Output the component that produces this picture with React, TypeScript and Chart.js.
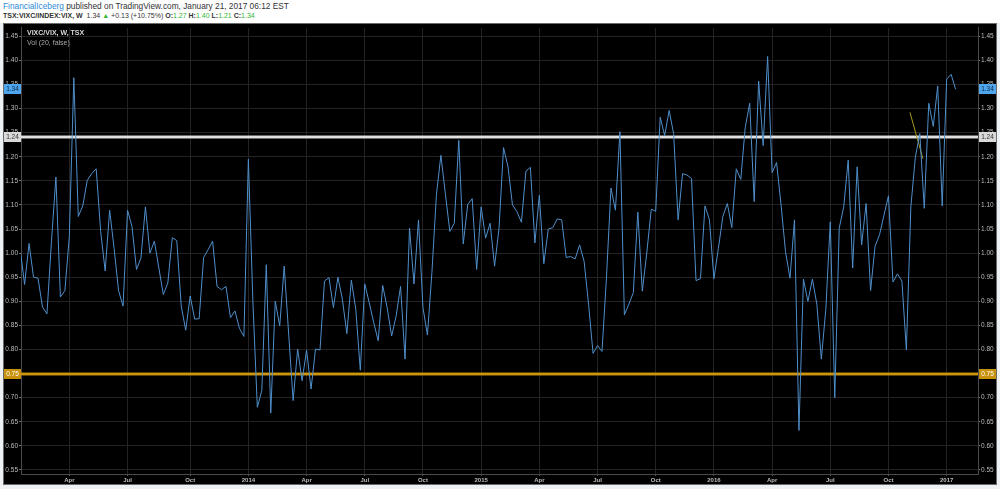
import React, { useEffect, useRef } from 'react';
import { Chart, registerables } from 'chart.js';

Chart.register(...registerables);

// Weekly bars, first bar = week of 14 Jan 2013
const START_DATE = Date.UTC(2013, 0, 14);

const values2013 = [
  1.01, 0.935, 1.02, 0.95, 0.948, 0.888, 0.874, 1.024, 1.158, 0.909,
  0.922, 1.035, 1.364, 1.076, 1.098, 1.151, 1.165, 1.175, 1.045, 0.963,
  1.089, 1.01, 0.922, 0.89, 1.089, 1.055, 0.966, 0.99, 1.096, 1.0,
  1.025, 0.969, 0.914, 0.938, 1.032, 1.026, 0.89, 0.84, 0.911, 0.863,
  0.864, 0.991, 1.007, 1.025, 0.931, 0.924, 0.931, 0.866, 0.88, 0.844,
  0.827,
];
const values2014 = [
  1.195, 0.9, 0.68, 0.715, 0.976, 0.668, 0.9, 0.849, 0.973, 0.832,
  0.694, 0.801, 0.735, 0.799, 0.718, 0.801, 0.799, 0.942, 0.949, 0.887,
  0.95, 0.904, 0.833, 0.944, 0.883, 0.757, 0.936, 0.897, 0.856, 0.818,
  0.933, 0.887, 0.828, 0.869, 0.931, 0.78, 1.052, 0.936, 1.069, 0.887,
  0.83, 0.96, 1.12, 1.203, 1.124, 1.045, 1.062, 1.234, 1.019, 1.101,
  1.113, 0.966,
];
const values2015 = [
  1.096, 1.031, 1.062, 0.973, 1.052, 1.219, 1.179, 1.1, 1.086, 1.064,
  1.17, 1.178, 1.021, 1.12, 0.978, 1.05, 1.053, 1.071, 1.069, 0.991,
  0.993, 0.988, 1.017, 0.983, 0.894, 0.792, 0.808, 0.796, 0.95, 1.135,
  1.089, 1.252, 0.872, 0.894, 0.918, 1.085, 0.921, 1.0, 1.091, 1.087,
  1.282, 1.244, 1.296, 1.248, 1.069, 1.165, 1.162, 1.155, 0.943, 0.947,
  1.098, 1.069,
];
const values2016 = [
  0.947, 1.01, 1.076, 1.103, 1.053, 1.175, 1.153, 1.261, 1.311, 1.107,
  1.357, 1.223, 1.408, 1.167, 1.188, 1.1, 1.003, 0.948, 1.069, 0.632,
  0.946, 0.9, 0.946, 0.894, 0.78, 0.883, 1.065, 0.7, 1.052, 1.096,
  1.193, 0.969, 1.179, 1.017, 1.103, 0.922, 1.014, 1.038, 1.079, 1.119,
  0.94, 0.957, 0.942, 0.799, 1.096, 1.199, 1.248, 1.093, 1.311, 1.263,
  1.347, 1.098,
];
const values2017 = [1.361, 1.371, 1.34];

const vixcVix = [...values2013, ...values2014, ...values2015, ...values2016, ...values2017];

// small trend-line drawing (week index, value)
const trendWeeks = [198.8, 201.7];
const trendValues = [1.292, 1.196];

const yTickValues = [0.55, 0.6, 0.65, 0.7, 0.75, 0.8, 0.85, 0.9, 0.95, 1.0, 1.05, 1.1, 1.15, 1.2, 1.25, 1.3, 1.35, 1.4, 1.45];
const quarterNames: Record<number, string> = { 3: 'Apr', 6: 'Jul', 9: 'Oct' };

const lastClose = 1.34;
const resistanceLevel = 1.24;
const supportLevel = 0.75;

const Y_MIN = 0.5416;
const Y_MAX = 1.4674;
const X_MIN = 0.2;
const X_MAX = 214;

function weekDate(i: number) {
  return new Date(START_DATE + i * 7 * 86400000);
}

function buildXTicks() {
  const ticks: { value: number; label: string }[] = [];
  for (let i = 1; i < 215; i++) {
    const d = weekDate(i);
    const p = weekDate(i - 1);
    if (d.getUTCMonth() !== p.getUTCMonth()) {
      const m = d.getUTCMonth();
      if (m === 0) ticks.push({ value: i, label: String(d.getUTCFullYear()) });
      else if (quarterNames[m]) ticks.push({ value: i, label: quarterNames[m] });
    }
  }
  return ticks;
}

const FONT = "'Liberation Sans', Arial, sans-serif";

export default function App() {
  const canvasRef = useRef<HTMLCanvasElement | null>(null);

  useEffect(() => {
    const canvas = canvasRef.current;
    if (!canvas) return;
    const xTicks = buildXTicks();
    const xLabelMap = new Map(xTicks.map((t) => [t.value, t.label]));

    const overlay = {
      id: 'tvOverlay',
      beforeDraw(chart: any) {
        const ctx = chart.ctx;
        ctx.save();
        ctx.fillStyle = '#000';
        ctx.fillRect(0, 0, chart.width, chart.height);
        ctx.restore();
      },
      beforeDatasetsDraw(chart: any) {
        const ctx = chart.ctx;
        const ca = chart.chartArea;
        const ys = chart.scales.y;
        ctx.save();
        const yr = Math.round(ys.getPixelForValue(resistanceLevel));
        ctx.fillStyle = '#cfcfcf';
        ctx.fillRect(ca.left, yr - 1.5, ca.right - ca.left, 3);
        ctx.fillStyle = '#f2f2f2';
        ctx.fillRect(ca.left, yr - 0.5, ca.right - ca.left, 1);
        const ysu = Math.round(ys.getPixelForValue(supportLevel));
        ctx.fillStyle = '#b8860b';
        ctx.fillRect(ca.left, ysu - 1.5, ca.right - ca.left, 3);
        ctx.fillStyle = '#e0a510';
        ctx.fillRect(ca.left, ysu - 0.5, ca.right - ca.left, 1);
        ctx.restore();
      },
      afterDraw(chart: any) {
        const ctx = chart.ctx;
        const ca = chart.chartArea;
        const ys = chart.scales.y;
        ctx.save();
        // outer border
        ctx.strokeStyle = '#6a6a6a';
        ctx.lineWidth = 1;
        ctx.strokeRect(0.5, 0.5, chart.width - 1, chart.height - 1);
        // price boxes
        const boxes = [
          { v: lastClose, bg: '#4ea6ee', fg: '#0b2740' },
          { v: resistanceLevel, bg: '#d9d9d9', fg: '#333' },
          { v: supportLevel, bg: '#c8920c', fg: '#fff' },
        ];
        ctx.font = `6.5px ${FONT}`;
        ctx.textBaseline = 'middle';
        for (const b of boxes) {
          const y = Math.round(ys.getPixelForValue(b.v));
          ctx.fillStyle = b.bg;
          ctx.fillRect(1, y - 5, ca.left - 1, 10);
          ctx.fillRect(ca.right + 1, y - 5, chart.width - ca.right - 2, 10);
          ctx.fillStyle = b.fg;
          ctx.textAlign = 'center';
          ctx.fillText(b.v.toFixed(2), (1 + ca.left) / 2, y + 0.5);
          ctx.fillText(b.v.toFixed(2), (ca.right + chart.width) / 2, y + 0.5);
        }
        // legend
        ctx.textAlign = 'left';
        ctx.textBaseline = 'middle';
        ctx.fillStyle = '#d8d8d8';
        ctx.font = `bold 7px ${FONT}`;
        ctx.fillText('VIXC/VIX, W, TSX', ca.left + 6, 10);
        ctx.fillStyle = '#a8a8a8';
        ctx.font = `7px ${FONT}`;
        ctx.fillText('Vol (20, false)', ca.left + 6, 20);
        ctx.restore();
      },
    };

    const yTicksFn = (axis: any) => {
      axis.ticks = yTickValues.map((v) => ({ value: v }));
    };

    const chart = new Chart(canvas, {
      type: 'line',
      data: {
        datasets: [
          {
            label: 'VIXC/VIX',
            data: vixcVix.map((v, i) => ({ x: i, y: v })),
            borderColor: '#4f8fcb',
            borderWidth: 1,
            pointRadius: 0,
            tension: 0,
            fill: false,
          },
          {
            label: 'trend',
            data: trendWeeks.map((w, i) => ({ x: w, y: trendValues[i] })),
            borderColor: '#a59a1e',
            borderWidth: 1,
            pointRadius: 0,
            tension: 0,
            fill: false,
          },
        ],
      },
      plugins: [overlay],
      options: {
        animation: false,
        responsive: false,
        maintainAspectRatio: false,
        layout: { padding: { top: 2, left: 0, right: 0, bottom: 0 } },
        plugins: { legend: { display: false }, tooltip: { enabled: false } },
        scales: {
          x: {
            type: 'linear',
            min: X_MIN,
            max: X_MAX,
            afterBuildTicks: (axis: any) => {
              axis.ticks = xTicks.map((t) => ({ value: t.value }));
            },
            afterFit: (axis: any) => {
              axis.height = 11;
            },
            ticks: {
              autoSkip: false,
              maxRotation: 0,
              padding: 1,
              color: '#bdbdbd',
              font: { size: 6, weight: 'bold', family: FONT },
              callback: (v: any) => xLabelMap.get(v) ?? '',
            },
            grid: { color: '#232323', tickLength: 2, tickColor: '#555' },
            border: { color: '#4a4a4a' },
          },
          y: {
            type: 'linear',
            position: 'left',
            min: Y_MIN,
            max: Y_MAX,
            afterBuildTicks: yTicksFn,
            afterFit: (axis: any) => {
              axis.width = 18;
            },
            ticks: {
              autoSkip: false,
              padding: 1,
              color: '#bdbdbd',
              font: { size: 6.5, family: FONT },
              callback: (v: any) => Number(v).toFixed(2),
            },
            grid: { color: '#232323', tickLength: 2, tickColor: '#777' },
            border: { color: '#4a4a4a' },
          },
          y2: {
            type: 'linear',
            position: 'right',
            min: Y_MIN,
            max: Y_MAX,
            afterBuildTicks: yTicksFn,
            afterFit: (axis: any) => {
              axis.width = 19;
            },
            ticks: {
              autoSkip: false,
              padding: 1,
              color: '#bdbdbd',
              font: { size: 6.5, family: FONT },
              callback: (v: any) => Number(v).toFixed(2),
            },
            grid: { drawOnChartArea: false, tickLength: 2, tickColor: '#777' },
            border: { color: '#4a4a4a' },
          },
        },
      },
    } as any);

    return () => chart.destroy();
  }, []);

  const green = '#2fb62f';
  return (
    <div style={{ position: 'fixed', left: 0, top: 0, width: 1000, height: 489, background: '#eef1f4', overflow: 'hidden' }}>
      <div style={{ position: 'absolute', left: 0, top: 0, width: 1000, height: 23, background: '#fff', fontFamily: FONT, color: '#333' }}>
        <div style={{ position: 'absolute', left: 3, top: 1, whiteSpace: 'nowrap', fontSize: 8.3, lineHeight: '10px' }}>
          <span style={{ color: '#2e8ad8' }}>FinancialIceberg</span> published on TradingView.com, January 21, 2017 06:12 EST
        </div>
        <div style={{ position: 'absolute', left: 3, top: 11, whiteSpace: 'nowrap', fontSize: 7, lineHeight: '10px' }}>
          <b>TSX:VIXC/INDEX:VIX, W</b>&nbsp; 1.34 <span style={{ color: green }}>▲</span> +0.13 (+10.75%) <b>O:</b>
          <span style={{ color: green }}>1.27</span> <b>H:</b><span style={{ color: green }}>1.40</span> <b>L:</b>
          <span style={{ color: green }}>1.21</span> <b>C:</b><span style={{ color: green }}>1.34</span>
        </div>
      </div>
      <canvas
        ref={canvasRef}
        width={994}
        height={462}
        style={{ position: 'absolute', left: 3, top: 23, width: 994, height: 462, display: 'block' }}
      />
    </div>
  );
}
